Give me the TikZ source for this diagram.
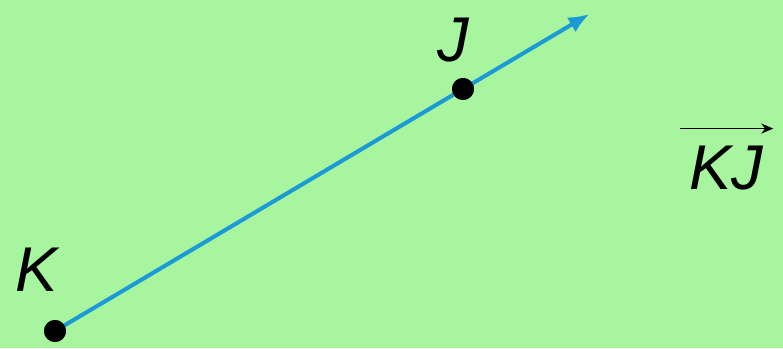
\documentclass[tikz,border=0pt]{standalone}
\usepackage{fontspec}
\setmainfont{Liberation Sans}
\usetikzlibrary{positioning, calc, arrows.meta}

\definecolor{bggreen}{HTML}{A8F5A0}
\definecolor{rayblue}{HTML}{1C9AD6}

\begin{document}
\begin{tikzpicture}[x=0.02cm, y=-0.02cm, >=latex, font=\fontsize{36}{40}\selectfont\itshape]

    % Styles
    \tikzset{
        ptdot/.style={circle, fill=black, inner sep=0pt, minimum size=0.44cm},
        ptlabel/.style={inner sep=0pt, text=black},
        ray/.style={rayblue, line width=2.3pt, -{Latex[length=0.42cm, width=0.34cm]}}
    }

    % Background
    \fill[bggreen] (0,0) rectangle (783,348);
    \useasboundingbox (0,0) rectangle (783,348);

    % Points
    \node[ptdot] (K) at (55,331) {};
    \node[ptdot] (J) at (463,89) {};
    \coordinate (tip) at ($(K)!1.31!(J)$);

    % Ray
    \draw[ray] (K.center) -- (tip);
    \node[ptdot] at (K) {};
    \node[ptdot] at (J) {};

    % Labels
    \node[ptlabel] (Klabel) at (37,270) {K};
    \node[ptlabel] (Jlabel) at (453,40) {J};

    % Ray name
    \node[ptlabel] (KJ) at (726,168) {KJ};
    \draw[-{Stealth[length=0.24cm, width=0.2cm]}, line width=1pt]
        ($(KJ.north west)+(-9,-17)$) coordinate (arrL) -- ($(KJ.north east)+(10,-17)$) coordinate (arrR);

\end{tikzpicture}
\end{document}
